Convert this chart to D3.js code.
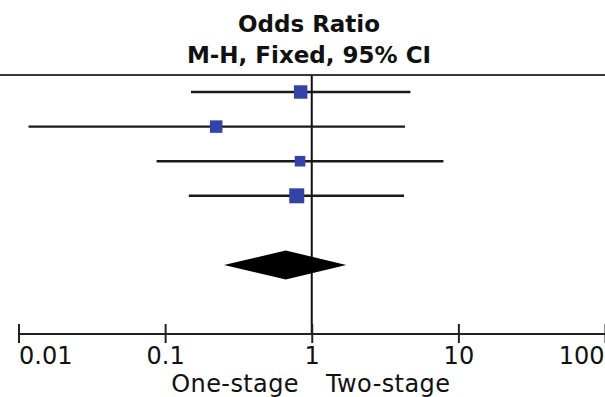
<!DOCTYPE html>
<html>
<head>
<meta charset="utf-8">
<script src="https://cdn.jsdelivr.net/npm/d3@7"></script>
<style>
  html, body { margin: 0; padding: 0; background: #fff; }
  svg { display: block; font-family: "DejaVu Sans", sans-serif; }
</style>
</head>
<body>
<div id="chart"></div>
<script>
// study rows (odds ratio, 95% CI, weight) and pooled estimate
const rows = [0, 1, 2, 3, 4, 5]
const studyOR = [0.84, 0.223, 0.832, 0.79]
const studyLo = [0.150, 0.0117, 0.0874, 0.145]
const studyHi = [4.71, 4.33, 7.91, 4.26]
const studyWeight = [29, 25, 18, 36]
const pooled = {row: 5, or: 0.665, lo: 0.252, hi: 1.72}
const tickValues = [0.01, 0.1, 1, 10, 100]
const tickLabels = ['0.01', '0.1', '1', '10', '100']
const titleLines = ['Odds Ratio', 'M-H, Fixed, 95% CI']
const sideLabels = ['One-stage', 'Two-stage']

const W = 605, H = 397
const axisY = 333.5

const svg = d3.select('#chart').append('svg')
  .attr('width', W).attr('height', H)

const x = d3.scaleLog().domain([0.01, 100]).range([18.5, 605])
const y = d3.scalePoint().domain(rows).range([92, 265])
const size = d3.scaleSqrt().domain([0, 36]).range([0, 15])

// header
svg.append('g').selectAll('text').data(titleLines).enter().append('text')
  .attr('x', 309)
  .attr('y', (d, i) => 31.5 + i * 31.5)
  .attr('text-anchor', 'middle')
  .attr('font-weight', 'bold')
  .attr('font-size', 23)
  .attr('fill', '#111')
  .text(d => d)

svg.append('line')
  .attr('x1', 0).attr('x2', W).attr('y1', 75).attr('y2', 75)
  .attr('stroke', '#3a3a3a').attr('stroke-width', 2)

// line of no effect
svg.append('line')
  .attr('x1', x(1)).attr('x2', x(1)).attr('y1', 75).attr('y2', axisY)
  .attr('stroke', '#111').attr('stroke-width', 2)

// confidence intervals
const studies = studyOR.map((v, i) => ({row: i, or: v, lo: studyLo[i], hi: studyHi[i], w: studyWeight[i]}))

svg.append('g').selectAll('line').data(studies).enter().append('line')
  .attr('x1', d => x(d.lo)).attr('x2', d => x(d.hi))
  .attr('y1', d => y(d.row)).attr('y2', d => y(d.row))
  .attr('stroke', '#1a1a1a').attr('stroke-width', 2.4)

svg.append('g').selectAll('rect').data(studies).enter().append('rect')
  .attr('x', d => x(d.or) - size(d.w) / 2)
  .attr('y', d => y(d.row) - size(d.w) / 2)
  .attr('width', d => size(d.w))
  .attr('height', d => size(d.w))
  .attr('fill', '#3343a8')

// pooled diamond
const py = y(pooled.row)
svg.append('path')
  .attr('d', `M${x(pooled.lo)},${py}L${x(pooled.or)},${py - 14.5}L${x(pooled.hi)},${py}L${x(pooled.or)},${py + 14.5}Z`)
  .attr('fill', '#000')

// axis
const axis = svg.append('g')
  .attr('transform', `translate(0,${axisY})`)
  .call(d3.axisBottom(x).tickValues(tickValues).tickSize(9.5).tickSizeOuter(0).tickFormat((d, i) => tickLabels[i]))

axis.select('.domain').attr('stroke', '#222').attr('stroke-width', 2)
axis.selectAll('.tick line').attr('y1', -9.5).attr('y2', 9.5).attr('stroke', '#222').attr('stroke-width', 2)
axis.selectAll('.tick text')
  .attr('y', 30).attr('dy', null)
  .attr('font-size', 24)
  .attr('font-family', '"DejaVu Sans", sans-serif')
  .attr('fill', '#111')
  .attr('text-anchor', (d, i) => i === 0 ? 'start' : i === tickValues.length - 1 ? 'end' : 'middle')
  .attr('dx', (d, i) => i === 0 ? 0 : i === tickValues.length - 1 ? -1 : 0)

// favours labels
svg.append('g').selectAll('text').data(sideLabels).enter().append('text')
  .attr('x', (d, i) => i === 0 ? 299 : 326)
  .attr('y', 392)
  .attr('text-anchor', (d, i) => i === 0 ? 'end' : 'start')
  .attr('font-size', 24)
  .attr('letter-spacing', 0.4)
  .attr('fill', '#111')
  .text(d => d)
</script>
</body>
</html>
